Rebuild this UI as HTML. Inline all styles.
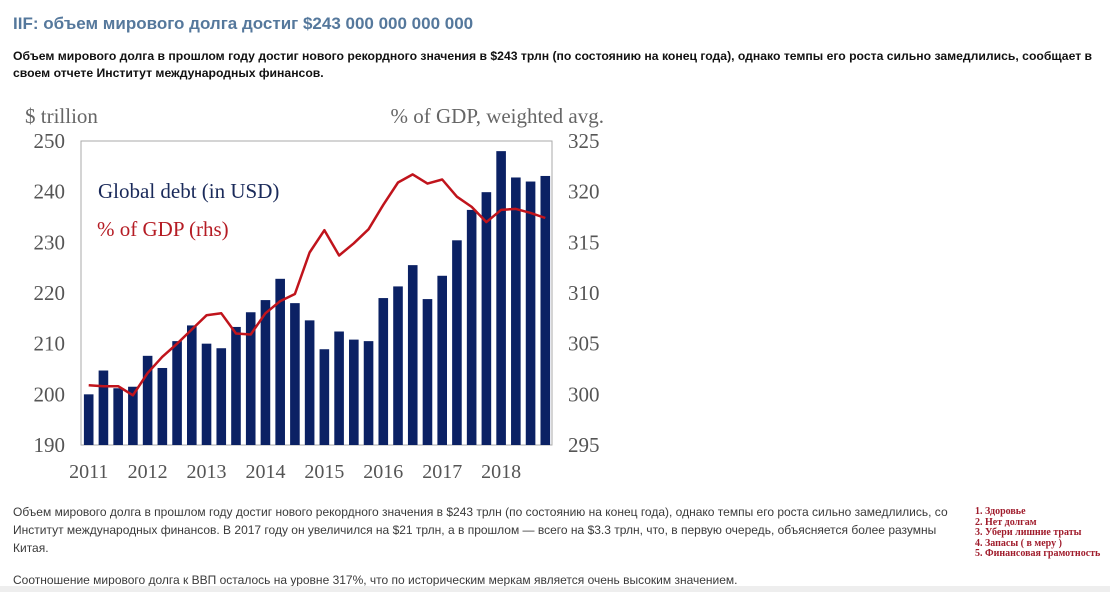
<!DOCTYPE html>
<html><head><meta charset="utf-8">
<style>
body{margin:0;width:1110px;height:592px;background:#fff;position:relative;overflow:hidden;font-family:"Liberation Sans",Arial,sans-serif;}
.abs{position:absolute;white-space:nowrap;}
#title{left:13px;top:14px;font-size:17px;font-weight:bold;color:#55789c;}
.sub{left:13px;font-size:12.2px;font-weight:bold;color:#111;}
.body{left:13px;font-size:12px;color:#3a3a3a;}
#list{left:975px;top:507px;font-family:"Liberation Serif",serif;font-size:10px;font-weight:bold;color:#a01c2c;line-height:10.5px;}
#band{left:0;top:586px;width:1110px;height:6px;background:#eee;}
</style></head>
<body>
<div class="abs" id="title">IIF: объем мирового долга достиг $243 000 000 000 000</div>
<div class="abs sub" style="top:49px">Объем мирового долга в прошлом году достиг нового рекордного значения в $243 трлн (по состоянию на конец года), однако темпы его роста сильно замедлились, сообщает в</div>
<div class="abs sub" style="top:66px">своем отчете Институт международных финансов.</div>

<svg id="chart" class="abs" style="left:0;top:0" width="1110" height="592"></svg>

<div class="abs body" style="top:505px">Объем мирового долга в прошлом году достиг нового рекордного значения в $243 трлн (по состоянию на конец года), однако темпы его роста сильно замедлились, со</div>
<div class="abs body" style="top:523px">Институт международных финансов. В 2017 году он увеличился на $21 трлн, а в прошлом — всего на $3.3 трлн, что, в первую очередь, объясняется более разумны</div>
<div class="abs body" style="top:541px">Китая.</div>
<div class="abs body" style="top:573px">Соотношение мирового долга к ВВП осталось на уровне 317%, что по историческим меркам является очень высоким значением.</div>
<div class="abs" style="left:955px;top:500px;width:155px;height:85px;background:#fff"></div>
<div class="abs" id="list">1. Здоровье<br>2. Нет долгам<br>3. Убери лишние траты<br>4. Запасы ( в меру )<br>5. Финансовая грамотность</div>
<div class="abs" id="band"></div>

<script>
const debt = [200.0,204.7,201.2,201.5,207.6,205.2,210.5,213.6,210.0,209.1,213.3,216.2,218.6,222.8,218.0,214.6,208.9,212.4,210.8,210.5,219.0,221.3,225.5,218.8,223.4,230.4,236.4,239.9,248.0,242.8,242.0,243.1];
const gdpPct = [300.9,300.8,300.8,299.9,302.1,303.7,305.0,306.4,307.8,308.0,306.0,305.9,308.0,309.2,309.9,314.0,316.2,313.7,314.9,316.3,318.7,320.9,321.7,320.8,321.2,319.5,318.5,317.0,318.2,318.3,317.9,317.4];
const years = ['2011','2012','2013','2014','2015','2016','2017','2018'];
const leftTicks = [190,200,210,220,230,240,250];
const rightTicks = [295,300,305,310,315,320,325];

const NS='http://www.w3.org/2000/svg';
const svg=document.getElementById('chart');
const L=81,R=552,T=141,B=445;
const yL=v=>B-(v-190)/(250-190)*(B-T);
const yR=v=>B-(v-295)/(325-295)*(B-T);
const x0=88.7, pitch=(545.3-88.7)/(debt.length-1);
const xAt=i=>x0+i*pitch;
function mk(tag,attrs,text){const e=document.createElementNS(NS,tag);for(const k in attrs)e.setAttribute(k,attrs[k]);if(text!==undefined)e.textContent=text;svg.appendChild(e);return e;}
const serif='"Liberation Serif",serif';

let f=mk('rect',{x:L,y:T,width:R-L,height:B-T,fill:'none',stroke:'#aaa','stroke-width':1});



debt.forEach((v,i)=>{
  const b=mk('rect',{x:xAt(i)-4.8,y:yL(v),width:9.6,height:B-yL(v),fill:'#0b2164'});
  
  
});
const pts=gdpPct.map((v,i)=>xAt(i).toFixed(1)+','+yR(v).toFixed(1)).join(' ');
const ln=mk('polyline',{points:pts,fill:'none',stroke:'#c0141c','stroke-width':2.5,'stroke-linejoin':'round'});



leftTicks.forEach(v=>{
  const t=mk('text',{x:65,y:yL(v)+7,'text-anchor':'end','font-family':serif,'font-size':21,fill:'#555'},v);
  
  
});
rightTicks.forEach(v=>{
  const t=mk('text',{x:568,y:yR(v)+7,'font-family':serif,'font-size':21,fill:'#555'},v);
  
  
});
years.forEach((y,i)=>{
  const t=mk('text',{x:xAt(i*4),y:478,'text-anchor':'middle','font-family':serif,'font-size':20,fill:'#555'},y);
  
  
});
let a=mk('text',{x:25,y:123,'font-family':serif,'font-size':21,fill:'#666'},'$ trillion');


a=mk('text',{x:604,y:123,'text-anchor':'end','font-family':serif,'font-size':21,fill:'#666'},'% of GDP, weighted avg.');


a=mk('text',{x:98,y:198,'font-family':serif,'font-size':21,fill:'#1a2a5a'},'Global debt (in USD)');


a=mk('text',{x:97,y:236,'font-family':serif,'font-size':21,fill:'#b51c24'},'% of GDP (rhs)');


</script>
</body></html>
